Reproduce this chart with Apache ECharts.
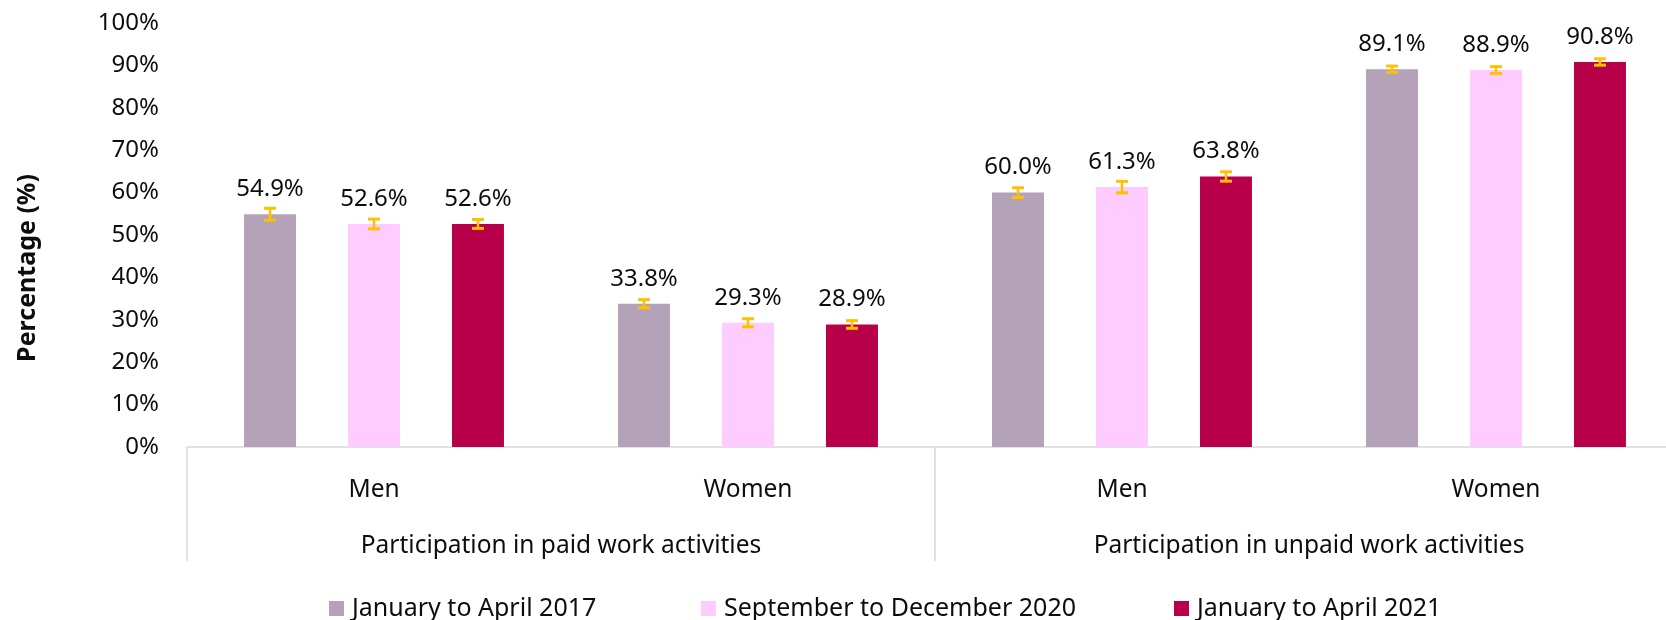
<!DOCTYPE html>
<html>
<head>
<meta charset="utf-8">
<script src="https://cdn.jsdelivr.net/npm/echarts@6/dist/echarts.min.js"></script>
<style>
  html, body { margin: 0; padding: 0; background: #fff; }
  #chart { width: 1666px; height: 620px; }
</style>
</head>
<body>
<div id="chart"></div>
<script>
// data
const categories = ['Men', 'Women', 'Men', 'Women'];
const groups = ['Participation in paid work activities', 'Participation in unpaid work activities'];
const periods = ['January to April 2017', 'September to December 2020', 'January to April 2021'];
const valuesJanApr2017 = [54.9, 33.8, 60.0, 89.1];
const valuesSepDec2020 = [52.6, 29.3, 61.3, 88.9];
const valuesJanApr2021 = [52.6, 28.9, 63.8, 90.8];
// +/- error margins (percentage points)
const errJanApr2017 = [1.4, 0.95, 1.15, 0.75];
const errSepDec2020 = [1.15, 0.95, 1.35, 0.8];
const errJanApr2021 = [1.05, 0.9, 1.1, 0.75];
const yTicks = [0, 10, 20, 30, 40, 50, 60, 70, 80, 90, 100];

const colors = ['#B4A2B8', '#FFCCFF', '#B8004A'];
const font = 'Noto Sans';
const textColor = '#0d0d0d';
const barPct = 13.9;          // bar width as % of category
const stepPct = barPct * 2;   // distance between bar centres

const chart = echarts.init(document.getElementById('chart'));

const seriesValues = [valuesJanApr2017, valuesSepDec2020, valuesJanApr2021];
const seriesErrs = [errJanApr2017, errSepDec2020, errJanApr2021];

const barSeries = periods.map((name, i) => ({
  name: name,
  type: 'bar',
  xAxisIndex: 0,
  barWidth: barPct + '%',
  barGap: '100%',
  itemStyle: { color: colors[i] },
  label: {
    show: true,
    position: 'top',
    distance: 13,
    fontFamily: font,
    fontSize: 24,
    color: textColor,
    formatter: p => p.value.toFixed(1) + '%'
  },
  data: seriesValues[i]
}));

// error bars drawn next to each bar (same offset as the bar inside its group)
const errSeries = periods.map((name, i) => ({
  type: 'custom',
  name: name + ' error',
  xAxisIndex: 0,
  z: 5,
  silent: true,
  data: seriesValues[i].map((v, k) => [k, v - seriesErrs[i][k], v + seriesErrs[i][k]]),
  renderItem: (params, api) => {
    const catW = api.size([1, 0])[0];
    const dx = (i - 1) * catW * stepPct / 100;
    const lo = api.coord([api.value(0), api.value(1)]);
    const hi = api.coord([api.value(0), api.value(2)]);
    const x = lo[0] + dx;
    const cap = 6;
    const st = { stroke: '#FFC000', lineWidth: 2.5 };
    const capSt = { stroke: '#FFC000', lineWidth: 3 };
    return {
      type: 'group',
      children: [
        { type: 'line', shape: { x1: x, y1: lo[1], x2: x, y2: hi[1] }, style: st },
        { type: 'line', shape: { x1: x - cap, y1: lo[1], x2: x + cap, y2: lo[1] }, style: capSt },
        { type: 'line', shape: { x1: x - cap, y1: hi[1], x2: x + cap, y2: hi[1] }, style: capSt }
      ]
    };
  }
}));

const legendLeft = [324, 696, 1169];

const option = {
  backgroundColor: '#fff',
  animation: false,
  textStyle: { fontFamily: font },
  grid: { left: 187, top: 23, width: 1496, height: 424, outerBoundsMode: 'none' },
  legend: periods.map((name, i) => ({
    data: [name],
    left: legendLeft[i],
    top: 591,
    icon: 'rect',
    itemWidth: 15,
    itemHeight: 15,
    textStyle: { fontFamily: font, fontSize: 25, color: textColor, padding: [0, 0, 0, 3] }
  })),
  xAxis: [
    {
      type: 'category',
      data: categories,
      position: 'bottom',
      axisLine: { lineStyle: { color: '#D9D9D9', width: 1.5 } },
      axisTick: { show: false },
      axisLabel: { fontFamily: font, fontSize: 24.5, color: textColor, margin: 31 }
    },
    {
      type: 'category',
      data: groups,
      position: 'bottom',
      axisLine: { show: false },
      axisTick: { show: true, length: 114, interval: 0, lineStyle: { color: '#D9D9D9', width: 1.5 } },
      axisLabel: { fontFamily: font, fontSize: 24.5, color: textColor, margin: 87, interval: 0 }
    }
  ],
  yAxis: {
    type: 'value',
    min: yTicks[0],
    max: yTicks[yTicks.length - 1],
    interval: 10,
    name: 'Percentage (%)',
    nameLocation: 'middle',
    nameGap: 147,
    nameTextStyle: {
      fontFamily: font,
      fontSize: 25,
      fontWeight: 'bold',
      color: textColor,
      padding: [0, 66, 0, 0]
    },
    axisLine: { show: false },
    axisTick: { show: false },
    splitLine: { show: false },
    axisLabel: { fontFamily: font, fontSize: 24, color: textColor, margin: 28, formatter: '{value}%' }
  },
  series: barSeries.concat(errSeries)
};

chart.setOption(option);
</script>
</body>
</html>
